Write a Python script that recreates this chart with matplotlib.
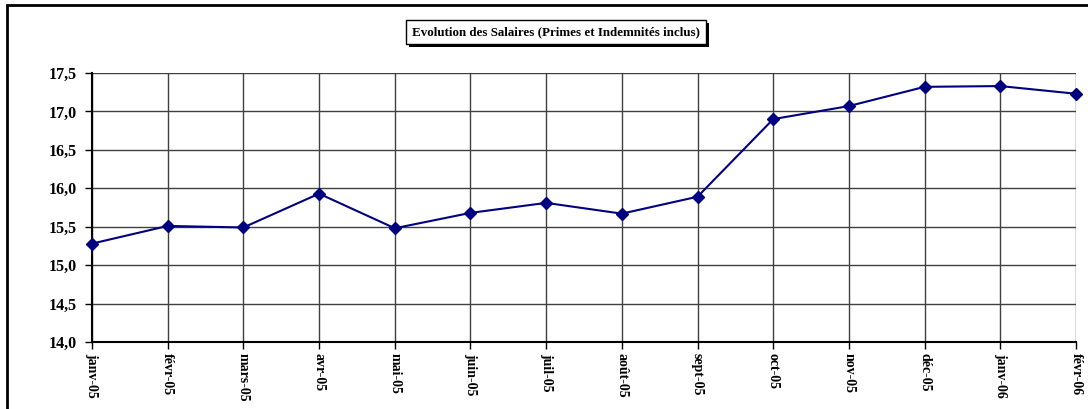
import matplotlib
matplotlib.use("Agg")
import matplotlib.pyplot as plt
import matplotlib.patheffects as pe
from matplotlib.patches import Rectangle
from matplotlib.ticker import FuncFormatter

months = ["janv-05", "févr-05", "mars-05", "avr-05", "mai-05", "juin-05", "juil-05",
          "août-05", "sept-05", "oct-05", "nov-05", "déc-05", "janv-06", "févr-06"]
salaires = [15.28, 15.51, 15.49, 15.93, 15.48, 15.68, 15.81,
            15.67, 15.89, 16.90, 17.07, 17.32, 17.33, 17.23]
title = "Evolution des Salaires (Primes et Indemnités inclus)"

plt.rcParams['font.family'] = ['Liberation Serif', 'DejaVu Serif']
plt.rcParams['font.weight'] = 'bold'

W, H = 1088, 409
fig = plt.figure(figsize=(W / 100, H / 100), dpi=100)
ax = fig.add_axes([92 / W, 1 - 342 / H, (1076 - 92) / W, (342 - 73) / H])

x = list(range(len(months)))
ax.plot(x, salaires, color="#000080", lw=1.5, marker="D", markersize=6,
        markerfacecolor="#000080", markeredgecolor="#000080", zorder=5, clip_on=False)

ax.set_xlim(0, len(months) - 1)
ax.set_ylim(14.0, 17.5)
ax.set_yticks([14.0, 14.5, 15.0, 15.5, 16.0, 16.5, 17.0, 17.5])
ax.yaxis.set_major_formatter(FuncFormatter(lambda v, p: f"{v:.1f}".replace(".", ",")))
ax.set_xticks(x)
ax.set_xticklabels(months, rotation=-90, fontsize=10, fontweight='bold', va='top', ha='center')
for lab in ax.get_yticklabels():
    lab.set_fontsize(11.5)
    lab.set_fontweight('bold')

ax.grid(True, color="#404040", lw=1.0)
ax.set_axisbelow(True)
for s in ["top", "right"]:
    ax.spines[s].set_visible(False)
ax.spines["left"].set_linewidth(1.5)
ax.spines["bottom"].set_linewidth(1.5)
ax.tick_params(axis='both', direction='out', length=5, width=1, color='black', pad=3)
ax.tick_params(axis='y', pad=6)

t = fig.text(556 / W, 1 - 32 / H, title, ha='center', va='center', fontsize=9.4,
             fontweight='bold',
             bbox=dict(boxstyle='square,pad=0.45', facecolor='white', edgecolor='black', lw=1))
t.get_bbox_patch().set_path_effects([pe.SimplePatchShadow(offset=(2, -2), shadow_rgbFace='black', alpha=1), pe.Normal()])

border = Rectangle((7 / W, -0.05), 1.1, 1 - 5 / H + 0.05, transform=fig.transFigure,
                   fill=False, edgecolor='black', lw=2, clip_on=False)
fig.patches.append(border)

fig.savefig("out.png", dpi=100)
